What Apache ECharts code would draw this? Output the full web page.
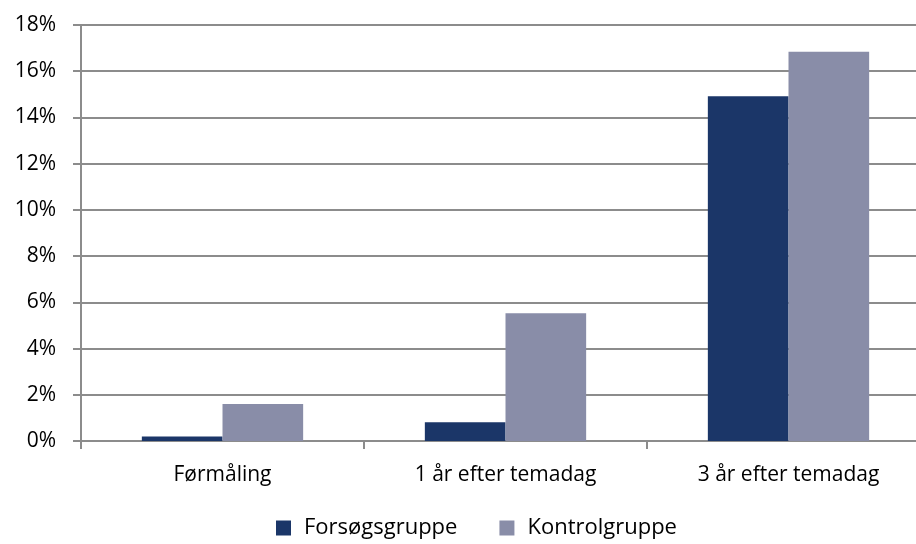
<!DOCTYPE html>
<html>
<head>
<meta charset="utf-8">
<script src="https://cdn.jsdelivr.net/npm/echarts@6/dist/echarts.min.js"></script>
<style>
  html, body { margin: 0; padding: 0; background: #fff; overflow: hidden; }
  /* plotområdet går ud over højre kant i originalen, derfor bredere end vinduet */
  #chart { width: 930px; height: 544px; }
</style>
</head>
<body>
<div id="chart"></div>
<script>
// kategorier og værdier (procent)
var categories = ["Førmåling", "1 år efter temadag", "3 år efter temadag"];
var forsoeg = [0.2, 0.81, 14.92];
var kontrol = [1.6, 5.53, 16.84];
var seriesNames = ["Forsøgsgruppe", "Kontrolgruppe"];

var chart = echarts.init(document.getElementById("chart"));
var font = "Open Sans";
var option = {
  animation: false,
  color: ["#1b3668", "#898da8"],
  grid: { left: 81, right: 0, top: 25, bottom: 103, containLabel: false },
  legend: {
    bottom: 0,
    left: 271,
    itemWidth: 15,
    itemHeight: 15,
    itemGap: 42,
    icon: "rect",
    textStyle: { fontFamily: font, fontSize: 22, color: "#000", padding: [0, 0, 0, 8] },
    data: seriesNames
  },
  xAxis: {
    type: "category",
    data: categories,
    axisLine: { lineStyle: { color: "#8c8c8c", width: 2 } },
    axisTick: { show: true, length: 8, lineStyle: { color: "#8c8c8c", width: 2 } },
    axisLabel: { fontFamily: font, fontSize: 21, color: "#000", margin: 24 }
  },
  yAxis: {
    type: "value",
    min: 0,
    max: 18,
    interval: 2,
    axisLine: { show: true, lineStyle: { color: "#8c8c8c", width: 2 } },
    axisTick: { show: true, length: 8, lineStyle: { color: "#8c8c8c", width: 2 } },
    splitLine: { lineStyle: { color: "#8c8c8c", width: 2 } },
    axisLabel: { fontFamily: font, fontSize: 21, color: "#000", margin: 25, formatter: "{value}%" }
  },
  series: [
    {
      name: seriesNames[0],
      type: "bar",
      data: forsoeg,
      barGap: "0%",
      barCategoryGap: "43%"
    },
    {
      name: seriesNames[1],
      type: "bar",
      data: kontrol,
      barGap: "0%",
      barCategoryGap: "43%"
    }
  ]
};
chart.setOption(option);
</script>
</body>
</html>
